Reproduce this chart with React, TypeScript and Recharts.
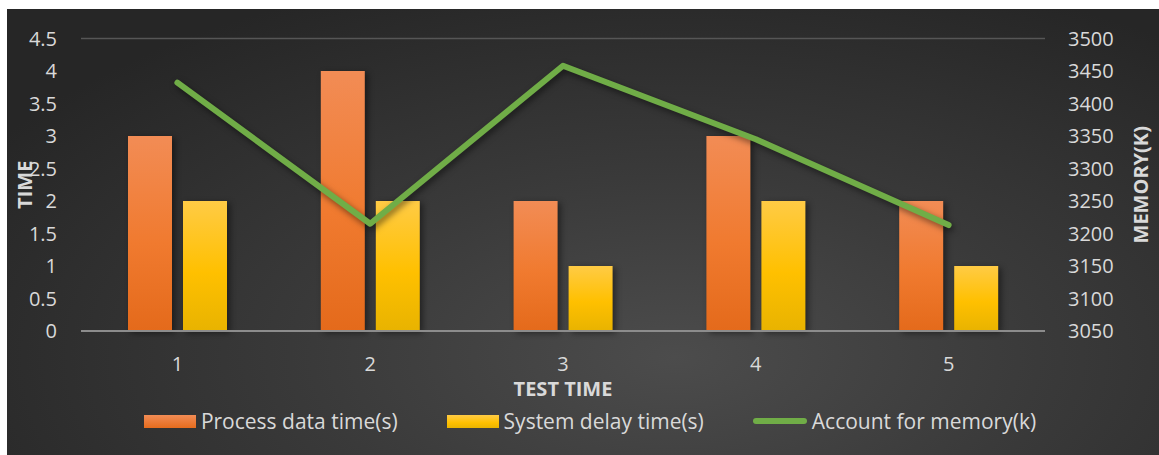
import {
  ComposedChart,
  Bar,
  Line,
  XAxis,
  YAxis,
  CartesianGrid,
  Legend,
} from "recharts";

const tests = ["1", "2", "3", "4", "5"];
const processTime = [3, 4, 2, 3, 2];
const delayTime = [2, 2, 1, 2, 1];
const memory = [3432, 3215, 3458, 3345, 3213];
const timeTicks = [0, 0.5, 1, 1.5, 2, 2.5, 3, 3.5, 4, 4.5];
const memTicks = [3050, 3100, 3150, 3200, 3250, 3300, 3350, 3400, 3450, 3500];

const data = tests.map((t, i) => ({
  test: t,
  process: processTime[i],
  delay: delayTime[i],
  memory: memory[i],
}));

const FONT = "'Open Sans', sans-serif";
const TXT = "#d9d9d9";

const LeftTitle = ({ viewBox }: any) => {
  const cx = 17;
  const cy = viewBox.y + viewBox.height / 2;
  return (
    <text x={cx} y={cy} transform={`rotate(-90 ${cx} ${cy})`} textAnchor="middle"
      dominantBaseline="central" fill={TXT} fontWeight="bold" fontSize={20} fontFamily={FONT}>
      TIME
    </text>
  );
};

const RightTitle = ({ viewBox }: any) => {
  const cx = viewBox.x + 95;
  const cy = viewBox.y + viewBox.height / 2;
  return (
    <text x={cx} y={cy} transform={`rotate(-90 ${cx} ${cy})`} textAnchor="middle"
      dominantBaseline="central" fill={TXT} fontWeight="bold" fontSize={20} fontFamily={FONT}>
      MEMORY(K)
    </text>
  );
};

const legendItems = [
  { label: "Process data time(s)", kind: "orange" },
  { label: "System delay time(s)", kind: "yellow" },
  { label: "Account for memory(k)", kind: "line" },
];

const LegendBox = () => (
  <div style={{ display: "flex", justifyContent: "center", gap: 49, fontFamily: FONT, fontSize: 21, color: TXT, height: 28, alignItems: "center", paddingLeft: 14 }}>
    {legendItems.map((it) => (
      <div key={it.label} style={{ display: "flex", alignItems: "center", gap: 5 }}>
        {it.kind === "line" ? (
          <div style={{ width: 54, height: 6, borderRadius: 3, background: "#70ad47" }} />
        ) : (
          <div
            style={{
              width: 52,
              height: 13,
              background:
                it.kind === "orange"
                  ? "linear-gradient(#f28c55, #e66c1d)"
                  : "linear-gradient(#ffcb45, #ffc000 60%, #eab400)",
            }}
          />
        )}
        <span>{it.label}</span>
      </div>
    ))}
  </div>
);

export default function App() {
  return (
    <div style={{ position: "absolute", left: 0, top: 0, width: 1159, height: 455, background: "#fff" }}>
      <style>{`
        .recharts-bar-rectangle path { filter: drop-shadow(3px 2px 3px rgba(0,0,0,0.45)); }
        .mem-line path { filter: drop-shadow(2px 3px 3px rgba(0,0,0,0.5)); }
      `}</style>
      <div
        style={{
          position: "absolute",
          left: 7,
          top: 9,
          width: 1152,
          height: 446,
          background: "radial-gradient(ellipse 70% 90% at 58% 78%, #4c4c4c 0%, #3a3a3a 45%, #262626 100%)",
        }}
      >
        <ComposedChart
          width={1152}
          height={446}
          data={data}
          margin={{ top: 29.5, right: 0, left: 0, bottom: 56 }}
          barGap={11}
          barCategoryGap="24.4%"
        >
          <defs>
            <linearGradient id="gOrange" x1="0" y1="0" x2="0" y2="1">
              <stop offset="0%" stopColor="#f28c55" />
              <stop offset="55%" stopColor="#f07a2f" />
              <stop offset="100%" stopColor="#e46a1b" />
            </linearGradient>
            <linearGradient id="gYellow" x1="0" y1="0" x2="0" y2="1">
              <stop offset="0%" stopColor="#ffcb45" />
              <stop offset="55%" stopColor="#ffc000" />
              <stop offset="100%" stopColor="#e8b300" />
            </linearGradient>
          </defs>
          <CartesianGrid vertical={false} stroke="#565656" strokeWidth={1.5} />
          <XAxis
            dataKey="test"
            height={40}
            axisLine={{ stroke: "#8c8c8c", strokeWidth: 2 }}
            tickLine={false}
            tickSize={0}
            tickMargin={26}
            tick={{ fill: TXT, fontSize: 20, fontFamily: FONT }}
            label={{ value: "TEST TIME", position: "bottom", offset: 11, fill: TXT, fontSize: 20, fontWeight: "bold", fontFamily: FONT }}
          />
          <YAxis
            yAxisId="left"
            width={74}
            domain={[0, 4.5]}
            ticks={timeTicks}
            axisLine={false}
            tickLine={false}
            tickSize={0}
            tickMargin={24}
            tick={{ fill: TXT, fontSize: 20, fontFamily: FONT }}
            label={<LeftTitle />}
          />
          <YAxis
            yAxisId="right"
            orientation="right"
            width={114}
            domain={[3050, 3500]}
            ticks={memTicks}
            axisLine={false}
            tickLine={false}
            tickSize={0}
            tickMargin={23}
            tick={{ fill: TXT, fontSize: 20, fontFamily: FONT, textAnchor: "start" }}
            label={<RightTitle />}
          />
          <Bar yAxisId="left" dataKey="process" name="Process data time(s)" fill="url(#gOrange)" barSize={44} isAnimationActive={false} />
          <Bar yAxisId="left" dataKey="delay" name="System delay time(s)" fill="url(#gYellow)" barSize={44} isAnimationActive={false} />
          <Line
            yAxisId="right"
            className="mem-line"
            type="linear"
            dataKey="memory"
            name="Account for memory(k)"
            stroke="#70ad47"
            strokeWidth={6}
            strokeLinecap="round"
            strokeLinejoin="round"
            dot={false}
            activeDot={false}
            isAnimationActive={false}
          />
          <Legend
            verticalAlign="bottom"
            content={() => <LegendBox />}
            wrapperStyle={{ left: 0, width: 1152, bottom: 20 }}
          />
        </ComposedChart>
      </div>
    </div>
  );
}
